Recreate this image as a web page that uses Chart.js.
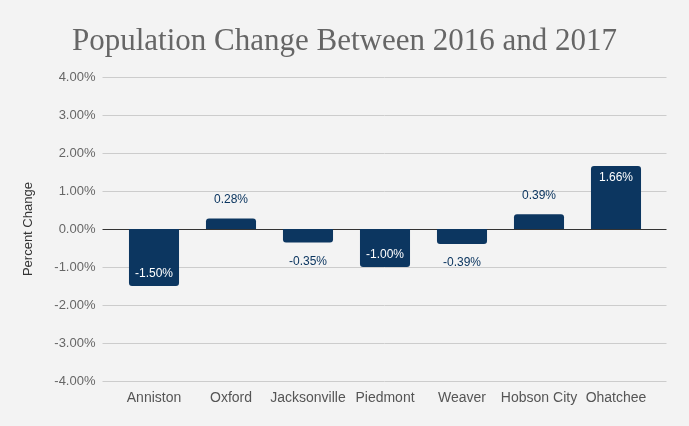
<!DOCTYPE html>
<html>
<head>
<meta charset="utf-8">
<script src="https://cdn.jsdelivr.net/npm/chart.js@4"></script>
<style>
  html, body { margin: 0; padding: 0; background: #f3f3f3; }
  #wrap { width: 689px; height: 426px; }
</style>
</head>
<body>
<div id="wrap"><canvas id="popChart"></canvas></div>
<script>
const cities = ['Anniston', 'Oxford', 'Jacksonville', 'Piedmont', 'Weaver', 'Hobson City', 'Ohatchee'];
const changePct = [-1.50, 0.28, -0.35, -1.00, -0.39, 0.39, 1.66];
const yTicks = [-4, -3, -2, -1, 0, 1, 2, 3, 4];

const barColor = '#0c3660';

// Gridlines that run a little past the plot on both sides, like the original
const extendedGrid = {
  id: 'extendedGrid',
  beforeDatasetsDraw(chart) {
    const { ctx, chartArea } = chart;
    const y = chart.scales.y;
    ctx.save();
    yTicks.forEach((t) => {
      const py = Math.round(y.getPixelForValue(t)) + 0.5;
      ctx.beginPath();
      ctx.strokeStyle = t === 0 ? '#333333' : '#cccccc';
      ctx.lineWidth = 1;
      ctx.moveTo(chartArea.left - 13, py);
      ctx.lineTo(chartArea.right + 12, py);
      ctx.stroke();
    });
    ctx.restore();
  },
};

// Value labels: inside the bar end for big bars, outside for small ones
const valueLabels = {
  id: 'valueLabels',
  afterDatasetsDraw(chart) {
    const { ctx } = chart;
    const meta = chart.getDatasetMeta(0);
    ctx.save();
    ctx.font = '12px "Liberation Sans", Arial, sans-serif';
    ctx.textAlign = 'center';
    ctx.textBaseline = 'middle';
    meta.data.forEach((bar, i) => {
      const v = changePct[i];
      const dir = v >= 0 ? -1 : 1;
      const inside = Math.abs(v) >= 1;
      let ty;
      if (inside) {
        ty = bar.y - dir * 12;
        ctx.fillStyle = '#ffffff';
      } else {
        ty = bar.y + dir * 19;
        ctx.fillStyle = barColor;
      }
      ctx.fillText(v.toFixed(2) + '%', bar.x, ty);
    });
    ctx.restore();
  },
};

new Chart(document.getElementById('popChart'), {
  type: 'bar',
  data: {
    labels: cities,
    datasets: [
      {
        data: changePct,
        backgroundColor: barColor,
        borderRadius: 3,
        categoryPercentage: 1,
        barPercentage: 0.65,
      },
    ],
  },
  options: {
    responsive: true,
    maintainAspectRatio: false,
    animation: false,
    layout: { padding: { left: 17, right: 17, top: 0, bottom: 0 } },
    plugins: {
      legend: { display: false },
      tooltip: { enabled: false },
      title: {
        display: true,
        text: 'Population Change Between 2016 and 2017',
        color: '#666666',
        font: { family: '"Liberation Serif", "DejaVu Serif", serif', size: 31, weight: 'normal' },
        padding: { top: 23, bottom: 17 },
      },
    },
    scales: {
      x: {
        grid: { display: false, drawTicks: false },
        border: { display: false },
        ticks: {
          color: '#555555',
          padding: 9,
          maxRotation: 0,
          autoSkip: false,
          font: { family: '"Liberation Sans", Arial, sans-serif', size: 14 },
        },
        afterFit(scale) { scale.height = 45; },
      },
      y: {
        min: -4,
        max: 4,
        afterBuildTicks(scale) { scale.ticks = yTicks.map((v) => ({ value: v })); },
        grid: { display: false, drawTicks: false },
        border: { display: false },
        ticks: {
          color: '#666666',
          padding: 20,
          font: { family: '"Liberation Sans", Arial, sans-serif', size: 13 },
          callback: (v) => v.toFixed(2) + '%',
        },
        title: {
          display: true,
          text: 'Percent Change',
          color: '#333333',
          font: { family: '"Liberation Sans", Arial, sans-serif', size: 13 },
          padding: { top: 4, bottom: 4 },
        },
        afterFit(scale) { scale.width = 98.5; },
      },
      // empty spacer on the right so the title stays centred on the page
      yRight: {
        position: 'right',
        display: true,
        min: -4,
        max: 4,
        grid: { display: false, drawTicks: false },
        border: { display: false },
        ticks: { display: false },
        afterFit(scale) { scale.width = 17.5; },
      },
    },
  },
  plugins: [extendedGrid, valueLabels],
});
</script>
</body>
</html>
